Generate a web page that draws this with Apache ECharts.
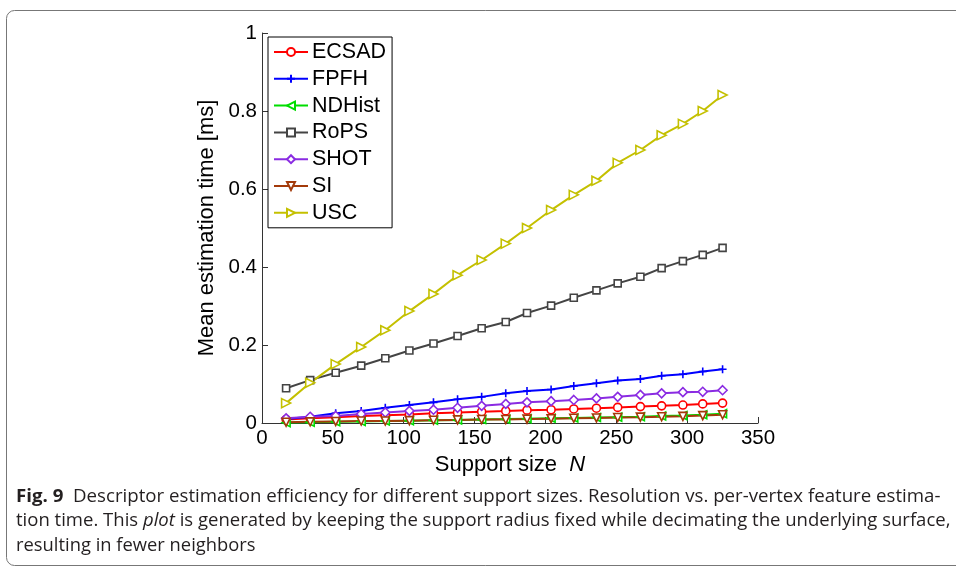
<!DOCTYPE html>
<html>
<head>
<meta charset="utf-8">
<script src="https://cdn.jsdelivr.net/npm/echarts@6/dist/echarts.min.js"></script>
<style>
  html, body { margin: 0; padding: 0; background: #fff; }
  #main { width: 956px; height: 568px; }
</style>
</head>
<body>
<div id="main"></div>
<script>
// support sizes N
var supportSize = [17, 34, 52, 70, 87, 104, 121, 138, 155, 172, 187, 204, 220, 236, 251, 267, 282, 297, 311, 325];
// mean estimation time [ms]
var ecsad = [0.009, 0.012, 0.015, 0.018, 0.020, 0.022, 0.025, 0.027, 0.029, 0.031, 0.033, 0.034, 0.036, 0.038, 0.040, 0.042, 0.044, 0.046, 0.049, 0.051];
var fpfh = [0.010, 0.016, 0.025, 0.031, 0.039, 0.046, 0.053, 0.061, 0.067, 0.076, 0.082, 0.086, 0.095, 0.102, 0.109, 0.113, 0.121, 0.125, 0.132, 0.138];
var ndhist = [0.001, 0.002, 0.003, 0.004, 0.005, 0.006, 0.007, 0.008, 0.009, 0.010, 0.011, 0.012, 0.013, 0.014, 0.015, 0.016, 0.018, 0.019, 0.021, 0.024];
var rops = [0.089, 0.110, 0.129, 0.147, 0.166, 0.186, 0.204, 0.223, 0.243, 0.259, 0.282, 0.301, 0.321, 0.340, 0.358, 0.375, 0.397, 0.415, 0.431, 0.449];
var shot = [0.012, 0.016, 0.018, 0.023, 0.027, 0.031, 0.034, 0.039, 0.044, 0.049, 0.053, 0.056, 0.059, 0.063, 0.067, 0.072, 0.076, 0.079, 0.080, 0.084];
var si = [0.002, 0.003, 0.004, 0.005, 0.005, 0.006, 0.007, 0.008, 0.009, 0.009, 0.010, 0.011, 0.012, 0.013, 0.014, 0.015, 0.016, 0.017, 0.019, 0.021];
var usc = [0.051, 0.103, 0.151, 0.195, 0.238, 0.287, 0.331, 0.379, 0.418, 0.460, 0.500, 0.546, 0.585, 0.621, 0.667, 0.700, 0.738, 0.767, 0.800, 0.841];

var font = 'Liberation Sans, Arial, sans-serif';
var capFont = 'Open Sans, sans-serif';

function pairs(ys) {
    var out = [];
    for (var i = 0; i < ys.length; i++) out.push([supportSize[i], ys[i]]);
    return out;
}

function makeSeries(name, ys, color, symbol, size) {
    return {
        name: name,
        type: 'line',
        data: pairs(ys),
        symbol: symbol,
        symbolSize: size || 8,
        showSymbol: true,
        animation: false,
        lineStyle: { color: color, width: 2 },
        itemStyle: { color: '#fff', borderColor: color, borderWidth: 1.6 }
    };
}

var myChart = echarts.init(document.getElementById('main'));

var option = {
    backgroundColor: '#fff',
    animation: false,
    grid: {
        left: 262,
        right: 198,
        top: 33,
        bottom: 145
    },
    legend: {
        left: 268,
        top: 37,
        orient: 'vertical',
        itemWidth: 34,
        itemHeight: 10,
        itemGap: 4.8,
        padding: [4, 6, 4, 5],
        borderColor: '#000',
        borderWidth: 1,
        backgroundColor: '#fff',
        textStyle: { fontFamily: font, fontSize: 21.5, color: '#000', padding: [0, 0, 0, -1] },
        data: ['ECSAD', 'FPFH', 'NDHist', 'RoPS', 'SHOT', 'SI', 'USC']
    },
    xAxis: {
        type: 'value',
        min: 0,
        max: 350,
        interval: 50,
        name: '{a|Support size  }{b|N}',
        nameLocation: 'middle',
        nameGap: 30,
        nameTextStyle: {
            rich: {
                a: { fontFamily: font, fontSize: 22, color: '#000' },
                b: { fontFamily: font, fontSize: 22, color: '#000', fontStyle: 'italic' }
            }
        },
        splitLine: { show: false },
        axisLine: { lineStyle: { color: '#333', width: 1 } },
        axisTick: { inside: true, length: 6, lineStyle: { color: '#333' } },
        axisLabel: { fontFamily: font, fontSize: 20.5, color: '#000', margin: 5 }
    },
    yAxis: {
        type: 'value',
        min: 0,
        max: 1,
        interval: 0.2,
        name: 'Mean estimation time [ms]',
        nameLocation: 'middle',
        nameGap: 36,
        nameTextStyle: { fontFamily: font, fontSize: 22, color: '#000' },
        splitLine: { show: false },
        axisLine: { show: true, lineStyle: { color: '#333', width: 1 } },
        axisTick: { show: true, inside: true, length: 6, lineStyle: { color: '#333' } },
        axisLabel: { fontFamily: font, fontSize: 20.5, color: '#000', margin: 5 }
    },
    graphic: [
        {
            type: 'rect',
            shape: { x: 6.5, y: 10.5, width: 1000, height: 555, r: 8 },
            style: { fill: 'none', stroke: '#777', lineWidth: 1 },
            silent: true
        },
        {
            type: 'text',
            x: 16,
            y: 488,
            scaleX: 1.037,
            style: {
                text: '{b|Fig. 9}  Descriptor estimation efficiency for different support sizes. Resolution vs. per-vertex feature estima-',
                fontFamily: capFont,
                fontSize: 18,
                fill: '#231f20',
                rich: { b: { fontFamily: capFont, fontSize: 18, fontWeight: 'bold', fill: '#231f20' } }
            }
        },
        {
            type: 'text',
            x: 16,
            y: 512,
            scaleX: 1.029,
            style: {
                text: 'tion time. This {i|plot} is generated by keeping the support radius fixed while decimating the underlying surface,',
                fontFamily: capFont,
                fontSize: 18,
                fill: '#231f20',
                rich: { i: { fontFamily: capFont, fontSize: 18, fontStyle: 'italic', fill: '#231f20' } }
            }
        },
        {
            type: 'text',
            x: 16,
            y: 537,
            scaleX: 1.02,
            style: {
                text: 'resulting in fewer neighbors',
                fontFamily: capFont,
                fontSize: 18,
                fill: '#231f20'
            }
        }
    ],
    series: [
        makeSeries('ECSAD', ecsad, '#ff0000', 'circle', 8),
        makeSeries('FPFH', fpfh, '#0000ff', 'path://M5,0L5,10M0,5L10,5', 8),
        makeSeries('NDHist', ndhist, '#00dd00', 'path://M0,5L10,0L10,10Z', 8),
        makeSeries('RoPS', rops, '#444444', 'rect', 7),
        makeSeries('SHOT', shot, '#8a2be2', 'diamond', 9),
        makeSeries('SI', si, '#a33a0a', 'path://M0,0L10,0L5,10Z', 8),
        makeSeries('USC', usc, '#c4c000', 'path://M0,0L10,5L0,10Z', 9)
    ]
};

myChart.setOption(option);
</script>
</body>
</html>
